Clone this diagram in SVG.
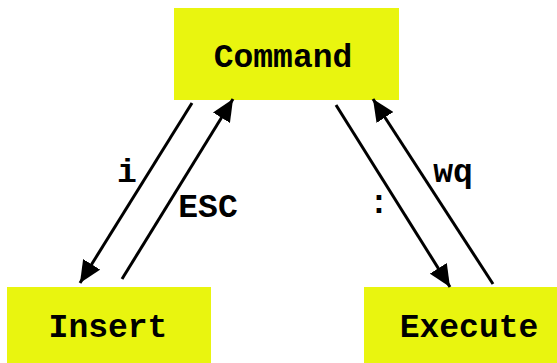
<svg xmlns="http://www.w3.org/2000/svg" width="557" height="363" viewBox="0 0 557 363">
<style>
.box{fill:#e9f50f}
.t{font-family:"Liberation Mono","Courier New",monospace;font-weight:bold;fill:#000;font-size:33px}
.c{fill:none;stroke:#000;stroke-width:3}
</style>
<defs>
<marker id="ah" markerUnits="userSpaceOnUse" markerWidth="24" markerHeight="20" refX="22" refY="10" orient="auto" viewBox="0 0 24 20">
<path d="M0,0 L22,10 L0,20 z" fill="#000"/>
</marker>
</defs>
<g id="command"><rect class="box" x="174" y="8" width="225" height="92"/><text class="t" x="283" y="67" text-anchor="middle">Command</text></g>
<g id="insert"><rect class="box" x="7" y="287" width="204" height="76"/><text class="t" x="108" y="337" text-anchor="middle">Insert</text></g>
<g id="execute"><rect class="box" x="364" y="287" width="193" height="76"/><text class="t" x="469" y="337" text-anchor="middle">Execute</text></g>
<g id="connectors">
<line class="c" x1="192" y1="103" x2="80" y2="283" marker-end="url(#ah)"/>
<line class="c" x1="122" y1="279" x2="233" y2="99" marker-end="url(#ah)"/>
<line class="c" x1="336" y1="105" x2="450" y2="287" marker-end="url(#ah)"/>
<line class="c" x1="493" y1="284" x2="373" y2="99" marker-end="url(#ah)"/>
<text class="t" x="127" y="182" text-anchor="middle">i</text>
<text class="t" x="208" y="217" text-anchor="middle">ESC</text>
<text class="t" x="379" y="213" text-anchor="middle">:</text>
<text class="t" x="453" y="182" text-anchor="middle">wq</text>
</g>
</svg>
